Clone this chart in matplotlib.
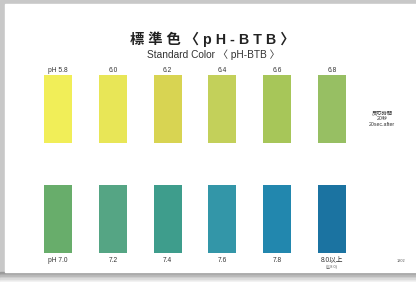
import matplotlib
matplotlib.use("Agg")
import matplotlib.pyplot as plt
from matplotlib.patches import Rectangle

plt.rcParams['font.family'] = ['Liberation Sans', 'Noto Sans CJK JP', 'DejaVu Sans']

top_labels = ["pH 5.8", "6.0", "6.2", "6.4", "6.6", "6.8"]
top_colors = ["#f1ee58", "#e8e657", "#d8d452", "#c3d05a", "#a7c659", "#97bf63"]
bottom_labels = ["pH 7.0", "7.2", "7.4", "7.6", "7.8", "8.0以上"]
bottom_colors = ["#68ad6b", "#55a584", "#3e9d8c", "#3396a8", "#2287ae", "#1b73a1"]
slots = [0, 1, 2, 3, 4, 5]

W, H = 416, 282
fig = plt.figure(figsize=(W / 100, H / 100), dpi=100)
ax = fig.add_axes([0, 0, 1, 1])
ax.set_xlim(0, W)
ax.set_ylim(H, 0)
ax.axis('off')

# card background / shadow
fig.patch.set_facecolor('#ffffff')
ax.add_patch(Rectangle((0, 0), W, H, color='#c8c8c8', zorder=0))
for i, c in enumerate(['#9a9a9a', '#a8a8a8', '#b8b8b8', '#cacaca', '#dadada', '#e8e8e8', '#f2f2f2']):
    ax.add_patch(Rectangle((0, 272 + i * 1.5), W, 1.5, color=c, zorder=0.5))
ax.add_patch(Rectangle((5, 4), W - 5, 268, color='white', zorder=1))

x0, step, bw = 58, 54.8, 28
xs = [x0 + step * s for s in slots]

ax.bar(xs, [68] * 6, bottom=75, width=bw, color=top_colors, zorder=2)
ax.bar(xs, [68] * 6, bottom=185, width=bw, color=bottom_colors, zorder=2)

for x, lab in zip(xs, top_labels):
    ax.text(x, 70, lab, ha='center', va='center', fontsize=4.8, color='#333333', zorder=3)
for x, lab in zip(xs, bottom_labels):
    ax.text(x, 260, lab, ha='center', va='center', fontsize=4.8, color='#333333', zorder=3)
ax.text(xs[-1], 266.5, "(≧8.0)", ha='center', va='center', fontsize=2.8, color='#555555', zorder=3)

ax.text(212, 39.5, "標 準 色 〈 p H - B T B 〉", ha='center', va='center', fontsize=10.3,
        fontweight='bold', color='#222222', zorder=3)
ax.text(213, 54.5, "Standard Color 〈 pH-BTB 〉", ha='center', va='center', fontsize=7.3,
        color='#333333', zorder=3)

ax.text(382, 113, "反応時間", ha='center', va='center', fontsize=3.8, color='#333333', zorder=3)
ax.text(382, 118.5, "20秒", ha='center', va='center', fontsize=3.8, color='#333333', zorder=3)
ax.text(382, 124, "20sec.after", ha='center', va='center', fontsize=3.8, color='#333333', zorder=3)
ax.text(401, 261, "1802", ha='center', va='center', fontsize=2.8, color='#555555', zorder=3)

fig.savefig("out.png", dpi=100)
